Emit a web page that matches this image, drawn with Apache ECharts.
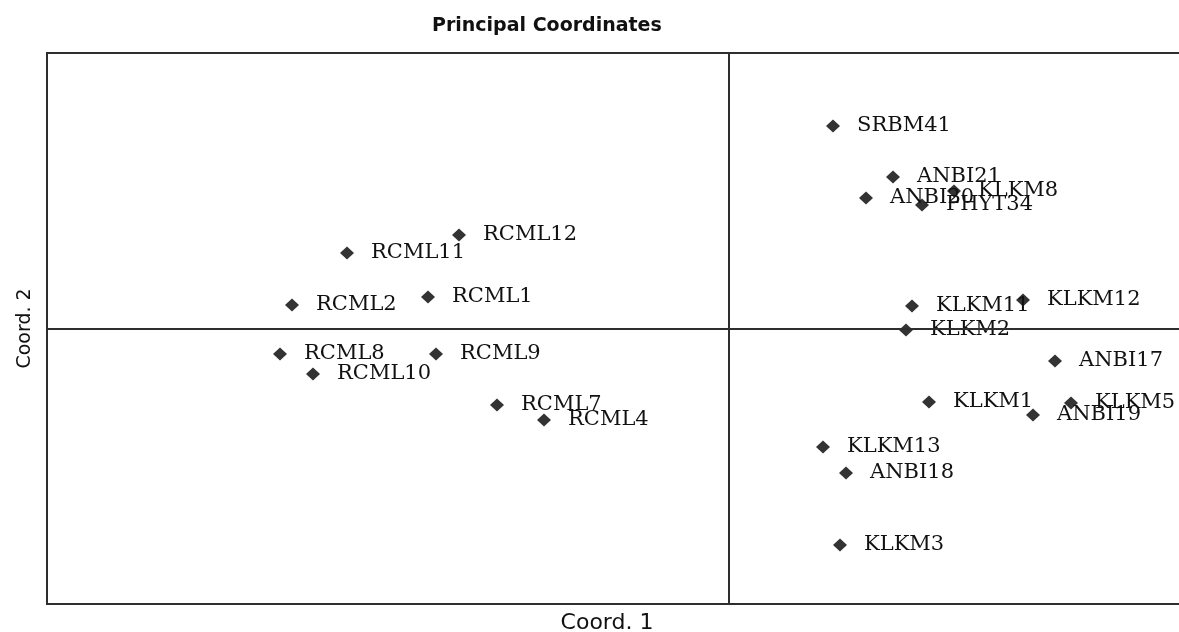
<!DOCTYPE html>
<html>
<head>
<meta charset="utf-8">
<script src="https://cdn.jsdelivr.net/npm/echarts@6/dist/echarts.min.js"></script>
<style>
html,body{margin:0;padding:0;background:#fff;}
#chart{width:1179px;height:632px;}
</style>
</head>
<body>
<div id="chart"></div>
<script>
// Sample labels and their principal coordinate scores
var names = ['SRBM41','ANBI21','ANBI20','KLKM8','PHYT34','KLKM11','KLKM12','KLKM2','ANBI17','KLKM1','KLKM5','ANBI19','KLKM13','ANBI18','KLKM3',
             'RCML12','RCML11','RCML2','RCML1','RCML8','RCML9','RCML10','RCML7','RCML4'];
var coord1 = [0.208,0.328,0.274,0.450,0.386,0.366,0.588,0.354,0.652,0.400,0.684,0.608,0.188,0.234,0.222,
              -0.540,-0.764,-0.874,-0.602,-0.898,-0.586,-0.832,-0.464,-0.370];
var coord2 = [0.405,0.303,0.261,0.275,0.247,0.045,0.057,-0.003,-0.065,-0.147,-0.149,-0.173,-0.237,-0.289,-0.433,
              0.187,0.151,0.047,0.063,-0.051,-0.051,-0.091,-0.153,-0.183];
var titleText = 'Principal Coordinates';
var xName = 'Coord. 1';
var yName = 'Coord. 2';

var points = names.map(function(n,i){ return {name:n, value:[coord1[i], coord2[i]]}; });

var chart = echarts.init(document.getElementById('chart'), null, {renderer:'canvas'});
chart.setOption({
  animation:false,
  backgroundColor:'#ffffff',
  title:{
    text:titleText, left:427, top:12,
    textStyle:{fontFamily:'DejaVu Sans', fontWeight:'bold', fontSize:19, color:'#111'}
  },
  grid:{left:47, top:53, right:-10, bottom:28, outerBoundsMode:'none', containLabel:false,
        show:true, borderColor:'#2e2e2e', borderWidth:2, backgroundColor:'#fff'},
  xAxis:{
    type:'value', min:-1.364, max:0.92,
    name:xName, nameLocation:'middle', nameGap:8,
    nameTextStyle:{fontFamily:'DejaVu Sans', fontSize:22, color:'#111', padding:[0,22,0,0]},
    axisLine:{show:false}, axisTick:{show:false}, axisLabel:{show:false}, splitLine:{show:false}
  },
  yAxis:{
    type:'value', min:-0.551, max:0.551,
    name:yName, nameLocation:'middle', nameGap:12, nameRotate:90,
    nameTextStyle:{fontFamily:'DejaVu Sans', fontSize:19, color:'#111'},
    axisLine:{show:false}, axisTick:{show:false}, axisLabel:{show:false}, splitLine:{show:false}
  },
  series:[{
    type:'scatter',
    data:points,
    symbol:'diamond',
    symbolSize:[14,13],
    itemStyle:{color:'#333', opacity:1},
    label:{
      show:true, position:'right', distance:17,
      formatter:function(p){return p.name;},
      fontFamily:'DejaVu Serif', fontSize:21, color:'#111'
    },
    markLine:{
      silent:true, symbol:'none', animation:false,
      label:{show:false},
      lineStyle:{color:'#2e2e2e', width:2, type:'solid', opacity:1},
      data:[{xAxis:0},{yAxis:0}]
    }
  }]
});
</script>
</body>
</html>
